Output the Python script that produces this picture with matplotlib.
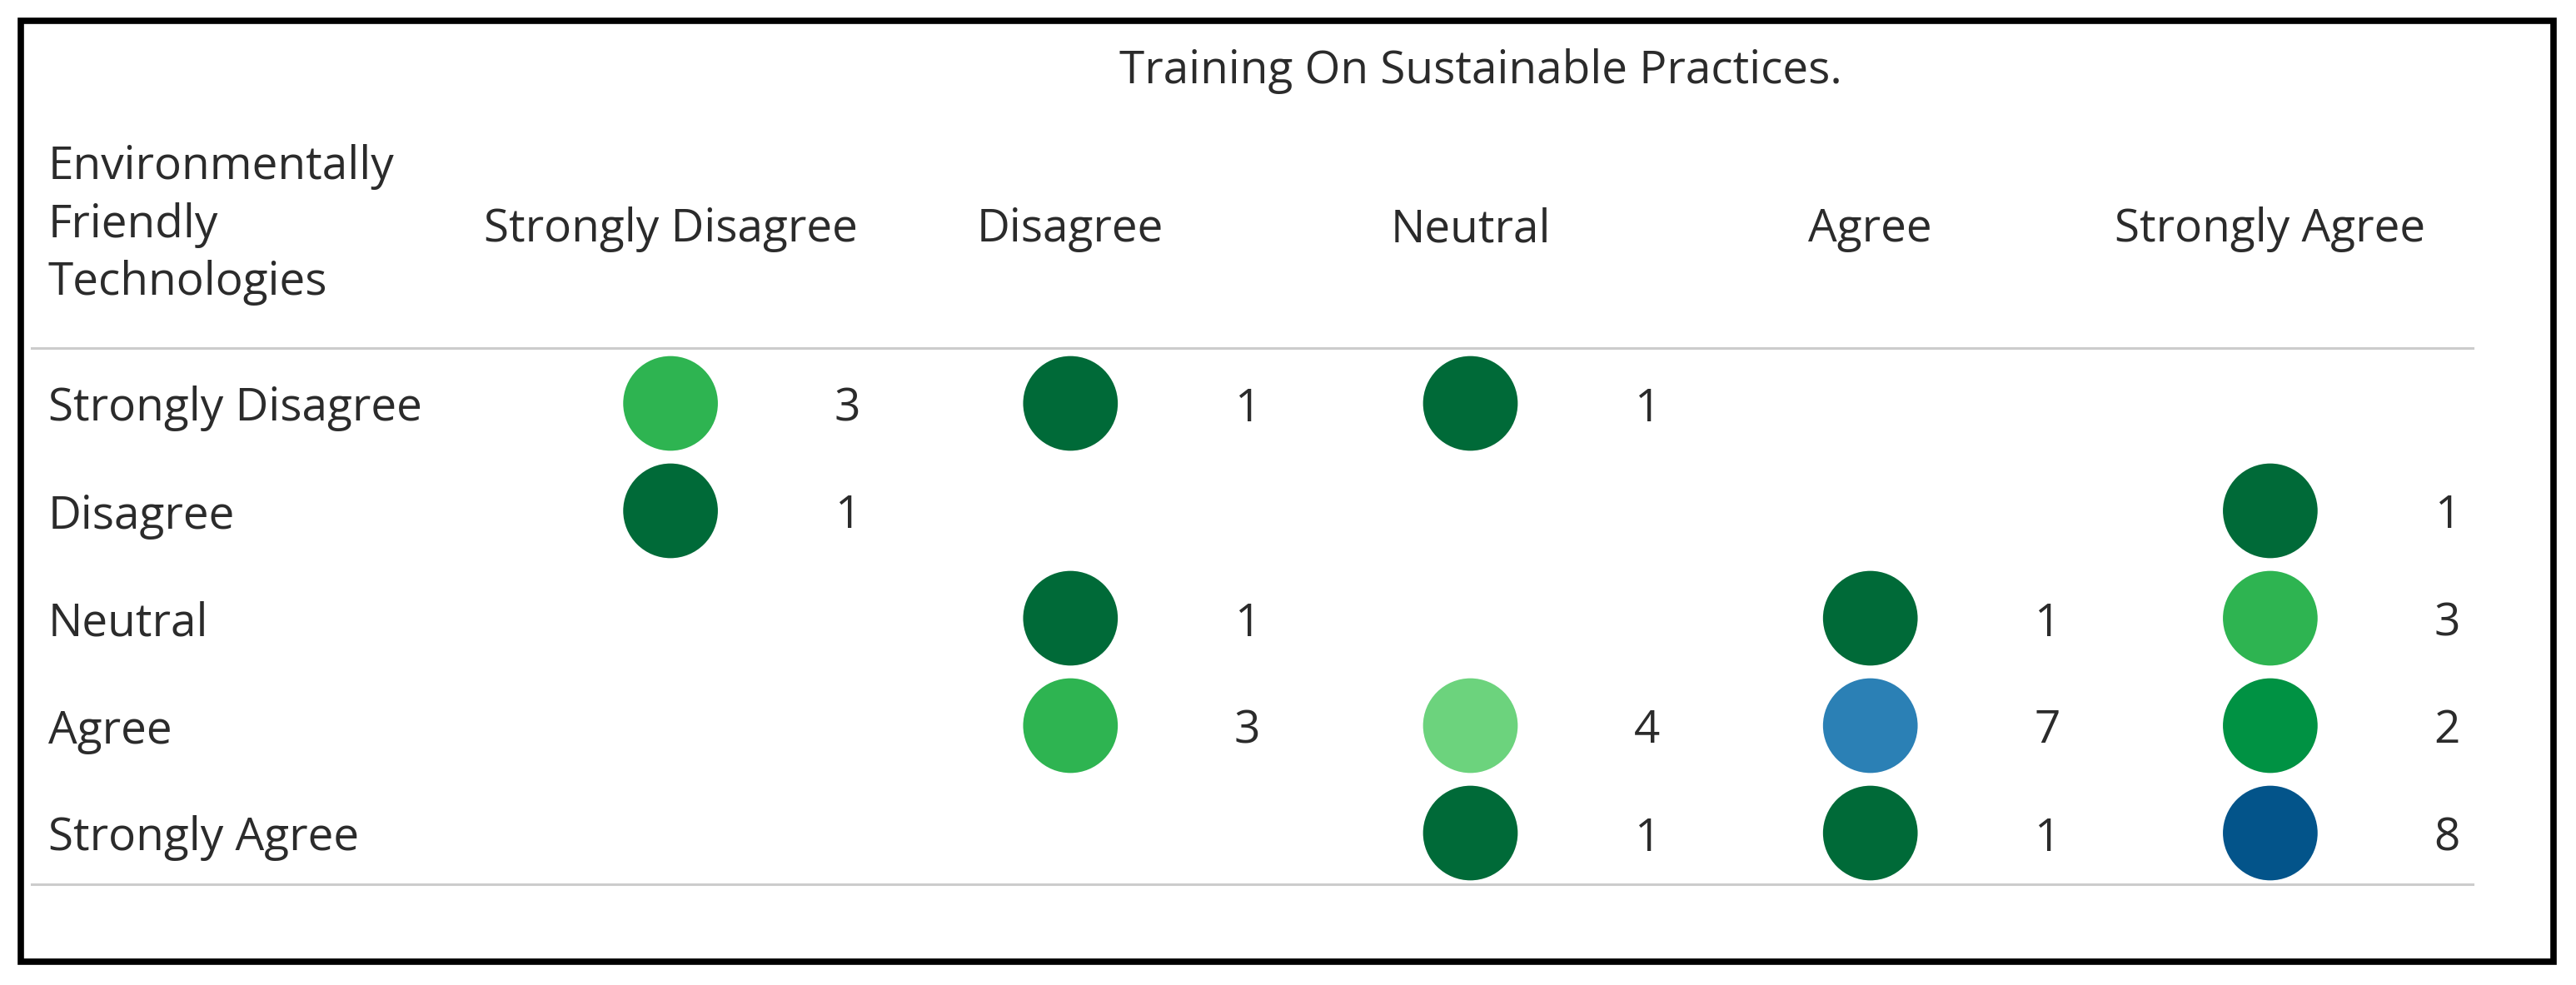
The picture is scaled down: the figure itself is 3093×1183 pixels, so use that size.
import matplotlib
matplotlib.use("Agg")
import matplotlib.pyplot as plt
from matplotlib.lines import Line2D
from matplotlib.patches import Rectangle

# ---- data ----
col_labels = ["Strongly Disagree", "Disagree", "Neutral", "Agree", "Strongly Agree"]
row_labels = ["Strongly Disagree", "Disagree", "Neutral", "Agree", "Strongly Agree"]
title_text = "Training On Sustainable Practices."
row_header = "Environmentally\nFriendly\nTechnologies"

# (row index, column index, count)
cell_rows = [0, 0, 0, 1, 1, 2, 2, 2, 3, 3, 3, 3, 4, 4, 4]
cell_cols = [0, 1, 2, 0, 4, 1, 3, 4, 1, 2, 3, 4, 2, 3, 4]
cell_vals = [3, 1, 1, 1, 1, 1, 1, 3, 3, 4, 7, 2, 1, 1, 8]

count_colors = {1: "#006a38", 2: "#009243", 3: "#2eb451", 4: "#6cd37d",
                7: "#2b80b5", 8: "#03548a"}

W, H = 3093, 1183
fig = plt.figure(figsize=(W / 100, H / 100), dpi=100)
fig.patch.set_facecolor("white")
plt.rcParams["font.family"] = ["Open Sans", "DejaVu Sans"]
txt_color = "#2b2b2b"
fs = 39.5

def fx(px):
    return px / W

def fy(py):
    return 1 - py / H

# outer border
fig.add_artist(Rectangle((fx(25), fy(1155)), fx(3066) - fx(25), fy(25) - fy(1155),
                         transform=fig.transFigure, fill=False, edgecolor="black",
                         linewidth=5.5))
# header / footer rules
for py in (418, 1062):
    fig.add_artist(Line2D([fx(38), fx(2969)], [fy(py), fy(py)], transform=fig.transFigure,
                          color="#cccccc", linewidth=2.2))

# grid axes: x -0.5..4.5 -> px 565..2966 ; y -0.5..4.5 -> px 420..1065
ax = fig.add_axes([fx(565), fy(1065), fx(2966) - fx(565), fy(420) - fy(1065)])
ax.set_xlim(-0.5, 4.5)
ax.set_ylim(4.5, -0.5)
ax.axis("off")

colors = [count_colors[v] for v in cell_vals]
ax.scatter(cell_cols, cell_rows, s=6700, c=colors, edgecolors="none", zorder=3)
for r, c, v in zip(cell_rows, cell_cols, cell_vals):
    ax.text(c + 0.475, r, str(v), ha="right", va="center_baseline", fontsize=fs,
            color=txt_color)

# column headers
for i, lab in enumerate(col_labels):
    ax.text(i, -1.67, lab, ha="center", va="center_baseline", fontsize=fs,
            color=txt_color, clip_on=False)
# row labels
for j, lab in enumerate(row_labels):
    ax.annotate(lab, xy=(0, j), xycoords=("figure fraction", "data"),
                xytext=(fx(58), 0), textcoords=("figure fraction", "offset points"),
                ha="left", va="center_baseline", fontsize=fs, color=txt_color)

# title and row header
fig.text(fx(1778), fy(79), title_text, ha="center", va="center_baseline", fontsize=fs,
         color=txt_color)
fig.text(fx(58), fy(270), row_header, ha="left", va="center", fontsize=fs, color=txt_color,
         linespacing=1.35)

fig.savefig("out.png", dpi=100, facecolor="white")
